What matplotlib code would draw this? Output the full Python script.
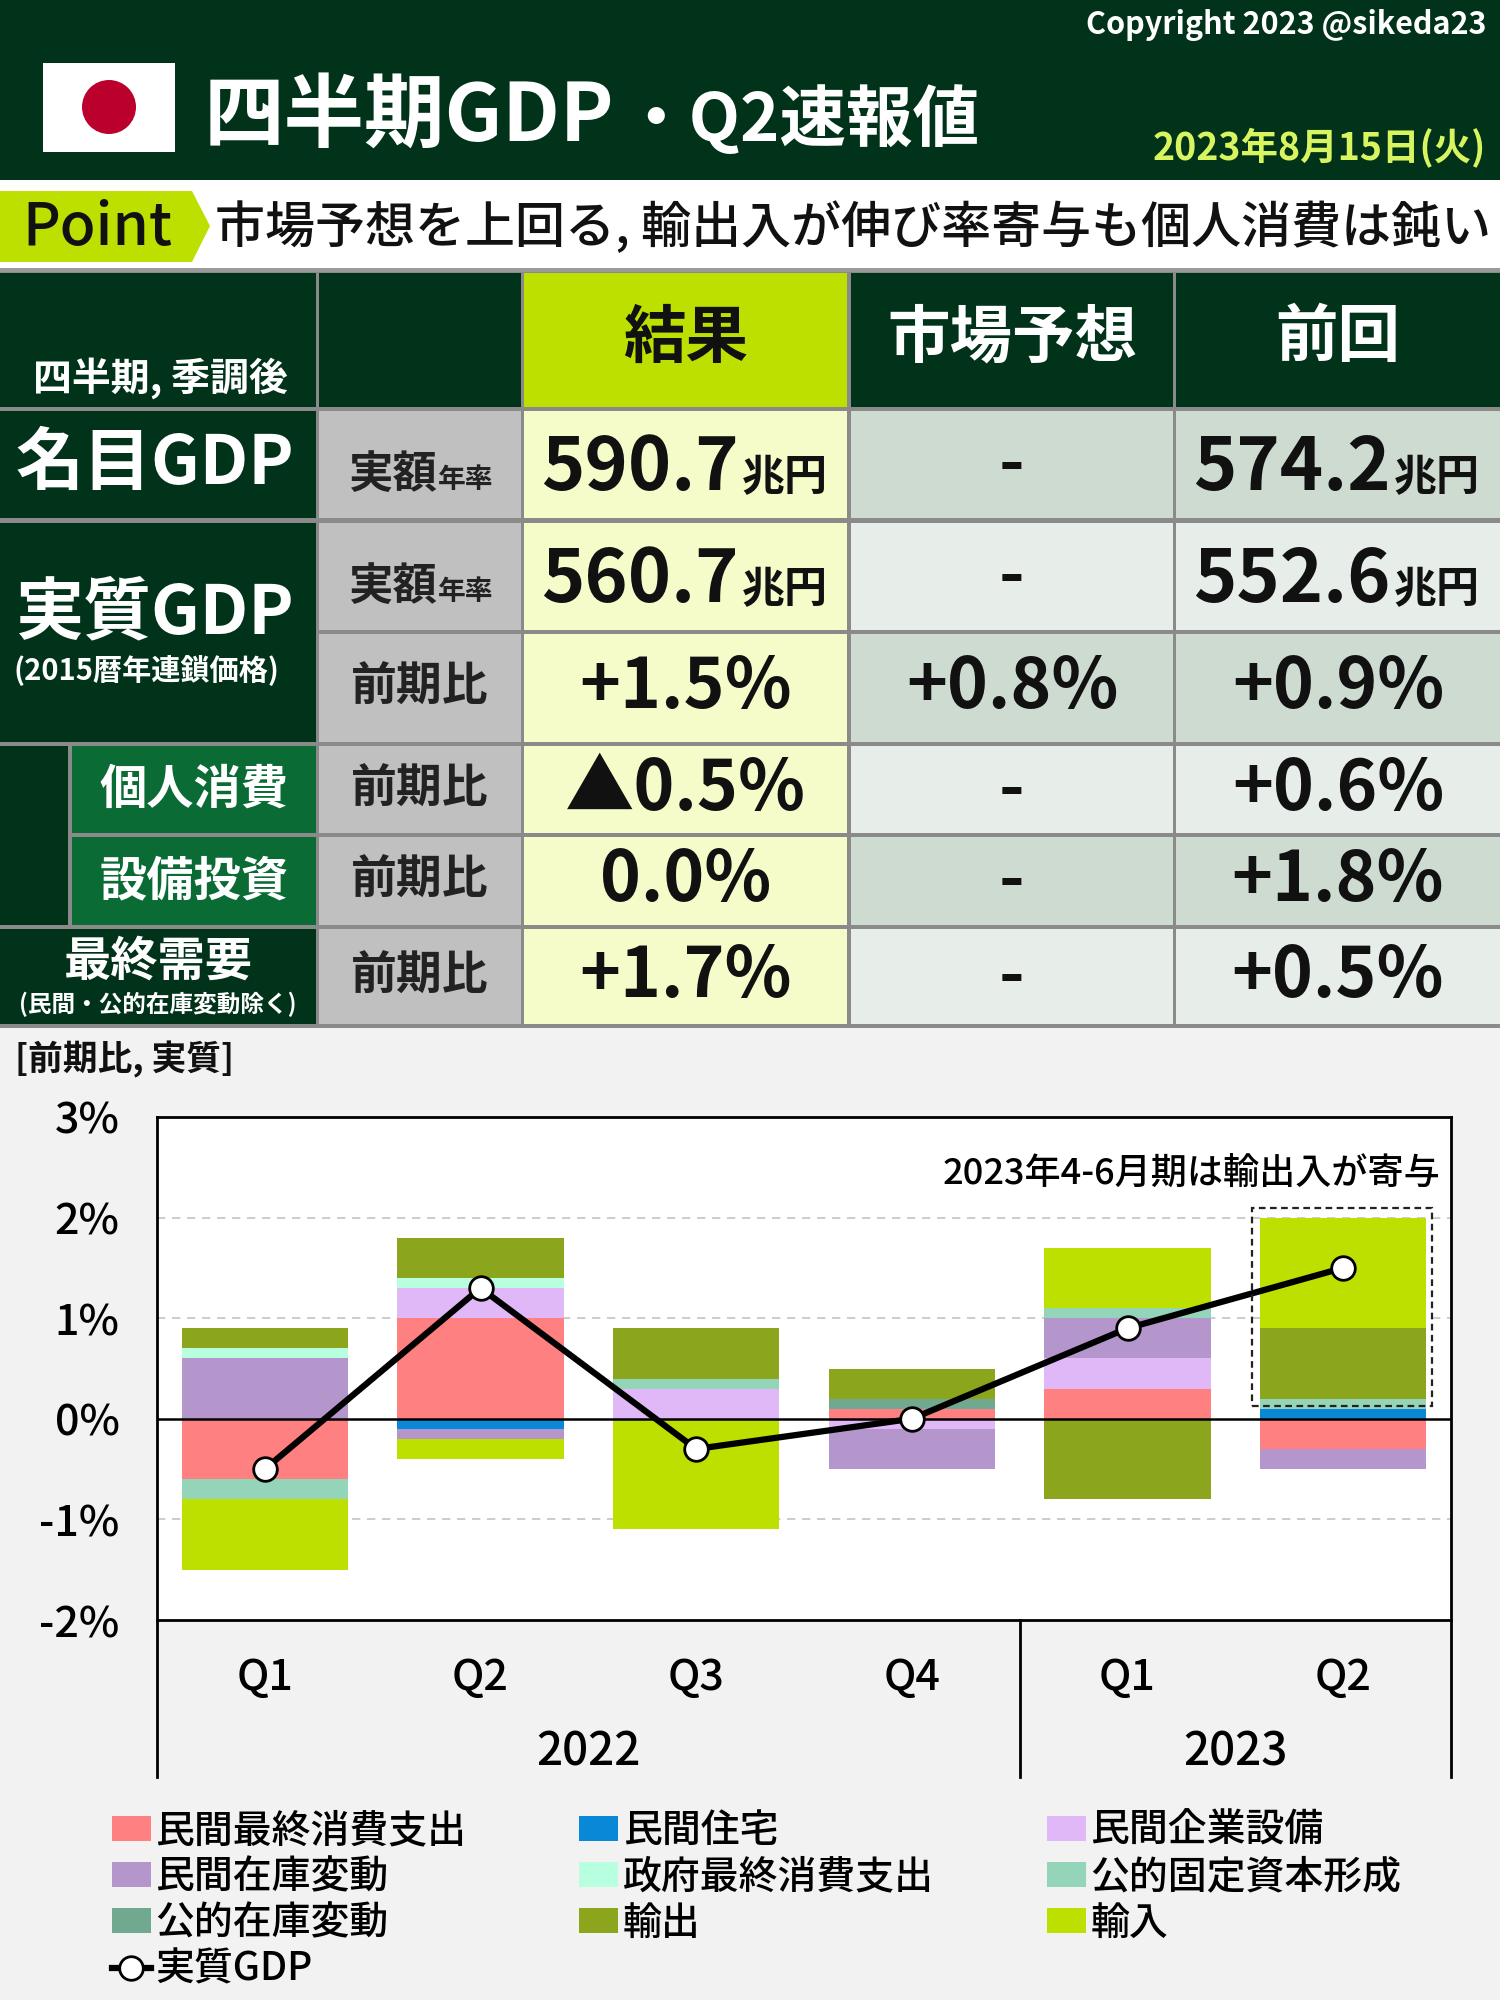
import numpy as np
import matplotlib
matplotlib.use('Agg')
import matplotlib.pyplot as plt
from matplotlib.patches import Rectangle, Polygon, Circle
import matplotlib.transforms as mtrans

plt.rcParams['font.family'] = ['Noto Sans CJK JP', 'DejaVu Sans']

# ---- data ----
quarters = ['Q1', 'Q2', 'Q3', 'Q4', 'Q1', 'Q2']
years = ['2022', '2023']
comp_names = ['民間最終消費支出', '民間住宅', '民間企業設備', '民間在庫変動', '政府最終消費支出',
              '公的固定資本形成', '公的在庫変動', '輸出', '輸入']
comp_colors = ['#ff8080', '#0a88d8', '#e0b8f8', '#b496cc', '#b8ffe0',
               '#94d4b8', '#70a890', '#8ba61c', '#bde000']
c_priv = [-0.6, 1.0, 0.0, 0.1, 0.3, -0.3]
c_house = [0.0, -0.1, 0.0, 0.0, 0.0, 0.1]
c_capex = [0.0, 0.3, 0.3, -0.1, 0.3, 0.0]
c_inv = [0.6, -0.1, 0.0, -0.4, 0.4, -0.2]
c_gov = [0.1, 0.1, 0.0, 0.0, 0.0, 0.0]
c_pubinv = [-0.2, 0.0, 0.1, 0.0, 0.1, 0.1]
c_pubstock = [0.0, 0.0, 0.0, 0.1, 0.0, 0.0]
c_exp = [0.2, 0.4, 0.5, 0.3, -0.8, 0.7]
c_imp = [-0.7, -0.2, -1.1, 0.0, 0.6, 1.1]
real_gdp = [-0.5, 1.3, -0.3, 0.0, 0.9, 1.5]

col_heads = ['結果', '市場予想', '前回']
nominal = ['590.7', '-', '574.2']
real_amt = ['560.7', '-', '552.6']
real_qoq = ['+1.5%', '+0.8%', '+0.9%']
cons_qoq = ['▲0.5%', '-', '+0.6%']
capex_qoq = ['0.0%', '-', '+1.8%']
final_qoq = ['+1.7%', '-', '+0.5%']

DG = '#01331a'
MG = '#0a6b35'
GRAY = '#c0c0c0'
YEL = '#f5fcc9'
D1 = '#cddbd1'
D2 = '#e7eee9'

fig = plt.figure(figsize=(15, 20), dpi=100)
fig.patch.set_facecolor('#f2f2f2')
bg = fig.add_axes([0, 0, 1, 1])
bg.set_xlim(0, 1500)
bg.set_ylim(2000, 0)
bg.axis('off')


def rect(x0, y0, x1, y1, c):
    bg.add_patch(Rectangle((x0, y0), x1 - x0, y1 - y0, color=c, lw=0))


def txt(x, y, s, size, c='#111111', ha='center', va='center', w='bold'):
    bg.text(x, y, s, fontsize=size, color=c, ha=ha, va=va, fontweight=w)


# header
rect(0, 0, 1500, 180, DG)
rect(43, 63, 175, 152, 'white')
bg.add_patch(Circle((109, 107), 27, color='#bc002d', lw=0))
txt(204, 141, '四半期GDP', 58, 'white', ha='left', va='baseline')
txt(622, 141, '・Q2速報値', 48, 'white', ha='left', va='baseline')
txt(1486, 34, 'Copyright 2023 @sikeda23', 22, 'white', ha='right', va='baseline')
txt(1486, 160, '2023年8月15日(火)', 27, '#d8f560', ha='right', va='baseline')

# point band
rect(0, 180, 1500, 268, 'white')
rect(0, 268, 1500, 272, '#9a9a9a')
bg.add_patch(Polygon([(0, 191), (192, 191), (210, 226), (192, 262), (0, 262)], color='#bde000', lw=0))
txt(97, 245, 'Point', 42, '#111111', va='baseline', w='medium')
txt(215, 243, '市場予想を上回る, 輸出入が伸び率寄与も個人消費は鈍い', 36, '#111111', ha='left', va='baseline', w='medium')

# table
rect(0, 272, 1500, 1028, '#8a8a8a')
cx = [(0, 316), (319, 521), (524, 847), (851, 1173), (1176, 1500)]
ry = [(273, 407), (411, 518), (523, 630), (634, 742), (746, 833), (837, 925), (929, 1024)]

for j, (x0, x1) in enumerate(cx):
    rect(x0, ry[0][0], x1, ry[0][1], '#bde000' if j == 2 else DG)
txt(160, 378, '四半期, 季調後', 28, 'white')
for j, h in enumerate(col_heads):
    x0, x1 = cx[j + 2]
    txt((x0 + x1) / 2, 338, h, 45, '#111111' if j == 0 else 'white')

# column 1 labels
rect(0, 411, 316, 518, DG)
txt(155, 464, '名目GDP', 49, 'white')
rect(0, 523, 316, 742, DG)
txt(155, 614, '実質GDP', 49, 'white')
txt(146, 670, '(2015暦年連鎖価格)', 21, 'white')
rect(0, 746, 68, 925, DG)
rect(72, 746, 316, 833, MG)
rect(72, 837, 316, 925, MG)
txt(194, 790, '個人消費', 34, 'white')
txt(194, 881, '設備投資', 34, 'white')
rect(0, 929, 316, 1024, DG)
txt(158, 962, '最終需要', 34, 'white')
txt(158, 1004, '(民間・公的在庫変動除く)', 17, 'white')

# column 2 labels + value cells
rows = [None, nominal, real_amt, real_qoq, cons_qoq, capex_qoq, final_qoq]
for i in range(1, 7):
    y0, y1 = ry[i]
    rect(cx[1][0], y0, cx[1][1], y1, GRAY)
    rect(cx[2][0], y0, cx[2][1], y1, YEL)
    shade = D1 if i % 2 == 1 else D2
    rect(cx[3][0], y0, cx[3][1], y1, shade)
    rect(cx[4][0], y0, cx[4][1], y1, shade)
    yc = (y0 + y1) / 2
    if i in (1, 2):
        yb = y1 - 30
        txt(437, yb, '実額', 32, '#222222', ha='right', va='baseline')
        txt(438, yb, '年率', 20, '#222222', ha='left', va='baseline')
        for j, v in enumerate(rows[i]):
            x0, x1 = cx[j + 2]
            if v == '-':
                txt((x0 + x1) / 2, yc, v, 50, '#111111')
            else:
                xs = x0 + 215
                txt(xs, yb + 2, v, 53, '#111111', ha='right', va='baseline')
                txt(xs + 3, yb + 2, '兆円', 31, '#111111', ha='left', va='baseline')
    else:
        txt(420, yc, '前期比', 33, '#222222')
        for j, v in enumerate(rows[i]):
            x0, x1 = cx[j + 2]
            txt((x0 + x1) / 2, yc, v, 50, '#111111')

txt(15, 1059, '[前期比, 実質]', 25, '#111111', ha='left')

# ---- chart ----
ax = fig.add_axes([157 / 1500, 1 - 1620 / 2000, 1294 / 1500, 503 / 2000])
ax.set_facecolor('white')
x = np.arange(len(quarters))
comps = [c_priv, c_house, c_capex, c_inv, c_gov, c_pubinv, c_pubstock, c_exp, c_imp]
pos_base = np.zeros(len(x))
neg_base = np.zeros(len(x))
handles = []
for vals, name, col in zip(comps, comp_names, comp_colors):
    v = np.array(vals)
    b = np.where(v >= 0, pos_base, neg_base)
    bars = ax.bar(x, v, 0.77, bottom=b, color=col, label=name, zorder=2)
    handles.append(bars)
    pos_base = pos_base + np.clip(v, 0, None)
    neg_base = neg_base + np.clip(v, None, 0)

gl, = ax.plot(x, real_gdp, color='black', lw=4.5, marker='o', ms=17, mfc='white',
              mec='black', mew=2, zorder=5, label='実質GDP')

ax.set_xlim(-0.5, 5.5)
ax.set_ylim(-2, 3)
ax.set_yticks([-2, -1, 0, 1, 2, 3])
ax.set_yticklabels(['-2%', '-1%', '0%', '1%', '2%', '3%'], fontsize=31, fontweight='medium')
for yv in [-1, 1, 2]:
    ax.axhline(yv, color='#c4c4c4', lw=1.2, ls=(0, (5, 4)), zorder=1)
ax.axhline(0, color='black', lw=1.8, zorder=3)
ax.tick_params(axis='y', length=0, pad=27)
ax.tick_params(axis='x', length=0, pad=26)
ax.set_xticks(x)
ax.set_xticklabels(quarters, fontsize=31, fontweight='medium')
for s in ax.spines.values():
    s.set_linewidth(2)

tr = mtrans.blended_transform_factory(ax.transData, ax.transAxes)
for xv in [-0.5, 3.5, 5.5]:
    ax.plot([xv, xv], [0, -0.312], color='black', lw=2, transform=tr, clip_on=False)
ax.text(1.5, -0.262, years[0], transform=tr, ha='center', va='center', fontsize=33, fontweight='medium')
ax.text(4.5, -0.262, years[1], transform=tr, ha='center', va='center', fontsize=33, fontweight='medium')

ax.add_patch(Rectangle((4.576, 0.13), 0.835, 1.97, fill=False, ec='#222222', lw=1.6,
                       ls=(0, (3, 2)), zorder=6))
ax.text(5.45, 2.43, '2023年4-6月期は輸出入が寄与', ha='right', va='center', fontsize=26,
        fontweight='medium', zorder=7)

# legend (row-wise order in 3 columns)
order = [0, 3, 6, 9, 1, 4, 7, 2, 5, 8]
allh = handles + [gl]
alll = comp_names + ['実質GDP']
leg = fig.legend([allh[i] for i in order], [alll[i] for i in order], ncol=3,
                 loc='upper left', bbox_to_anchor=(112 / 1500, 1 - 1811 / 2000),
                 frameon=False, fontsize=28, handlelength=1.0, handleheight=0.6,
                 handletextpad=0.12, columnspacing=2.9, labelspacing=0.16,
                 borderpad=0, borderaxespad=0, prop={'size': 28, 'weight': 'medium'})

fig.savefig('out.png', dpi=100, facecolor=fig.get_facecolor())
